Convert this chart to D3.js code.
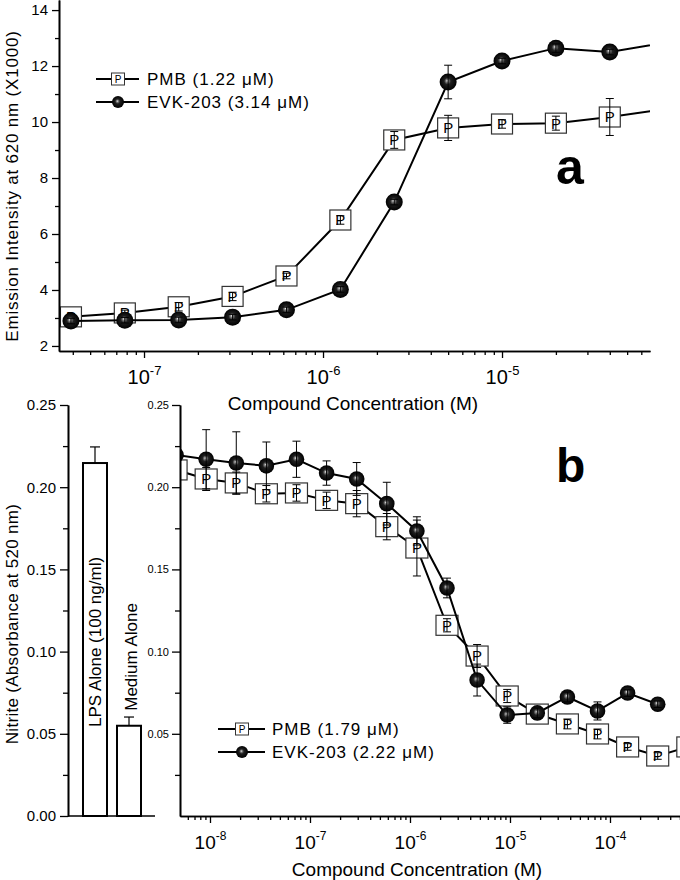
<!DOCTYPE html>
<html><head><meta charset="utf-8">
<script src="https://cdn.jsdelivr.net/npm/d3@7"></script>
<style>
html,body{margin:0;padding:0;background:#fff;}
svg{display:block;font-family:"Liberation Sans",Arial,sans-serif;}
</style></head>
<body><svg id="c" width="680" height="880"></svg>
<script>
// ---------- DATA ----------
// Panel a (top)
const concA = [3.906e-8, 7.8125e-8, 1.5625e-7, 3.125e-7, 6.25e-7, 1.25e-6, 2.5e-6, 5e-6, 1e-5, 2e-5, 4e-5, 8e-5];
const pmbA  = [3.04, 3.18, 3.40, 3.77, 4.50, 6.50, 9.36, 9.79, 9.93, 9.96, 10.18, 10.45];
const pmbAErr = [0.10, 0.10, 0.15, 0.15, 0.10, 0.15, 0.30, 0.45, 0.15, 0.25, 0.66, 0];
const evkA  = [2.89, 2.92, 2.93, 3.03, 3.29, 4.02, 7.14, 11.43, 12.18, 12.64, 12.50, 12.83];
const evkAErr = [0.10, 0.10, 0.10, 0.10, 0.10, 0.10, 0.10, 0.60, 0.10, 0.15, 0.10, 0];
const yTicksA = [2, 4, 6, 8, 10, 12, 14];
const yMinorA = [3, 5, 7, 9, 11, 13];
const xTicksA = [1e-7, 1e-6, 1e-5];
const legendA = ["PMB (1.22 \u03bcM)", "EVK-203 (3.14 \u03bcM)"];

// Panel b (bottom)
const barCats = ["LPS Alone (100 ng/ml)", "Medium Alone"];
const barVals = [0.2147, 0.0549];
const barErr  = [0.0098, 0.0053];
const concB = [4.578e-9, 9.155e-9, 1.831e-8, 3.662e-8, 7.324e-8, 1.465e-7, 2.93e-7, 5.859e-7, 1.172e-6, 2.344e-6, 4.688e-6, 9.375e-6, 1.875e-5, 3.75e-5, 7.5e-5, 1.5e-4, 3e-4, 6e-4];
const pmbB = [0.2105, 0.205, 0.2026, 0.196, 0.1965, 0.192, 0.190, 0.176, 0.163, 0.116, 0.0973, 0.073, 0.062, 0.056, 0.0499, 0.042, 0.0365, 0.042];
const pmbBErr = [0.004, 0.007, 0.0066, 0.005, 0.005, 0.005, 0.008, 0.008, 0.017, 0.004, 0.007, 0.004, 0.003, 0.003, 0.003, 0.002, 0.002, 0];
const evkB = [0.2196, 0.217, 0.2147, 0.213, 0.217, 0.2086, 0.205, 0.190, 0.1734, 0.1387, 0.0827, 0.0614, 0.0627, 0.0724, 0.0639, 0.0748, 0.068];
const evkBErr = [0.004, 0.018, 0.019, 0.0145, 0.011, 0.0074, 0.010, 0.013, 0.0086, 0.006, 0.0097, 0.005, 0.003, 0.003, 0.0055, 0.002, 0.002];
const yTicksB = [0, 0.05, 0.10, 0.15, 0.20, 0.25];
const yMinorB = [0.025, 0.075, 0.125, 0.175, 0.225];
const xTicksB = [1e-8, 1e-7, 1e-6, 1e-5, 1e-4];
const legendB = ["PMB (1.79 \u03bcM)", "EVK-203 (2.22 \u03bcM)"];

// ---------- SETUP ----------
const svg = d3.select("#c");
const defs = svg.append("defs");
const grad = defs.append("radialGradient").attr("id","ball")
  .attr("cx","50%").attr("cy","50%").attr("r","50%").attr("fx","44%").attr("fy","42%");
grad.append("stop").attr("offset","0%").attr("stop-color","#f4f4f4");
grad.append("stop").attr("offset","14%").attr("stop-color","#8a8a8a");
grad.append("stop").attr("offset","40%").attr("stop-color","#202020");
grad.append("stop").attr("offset","100%").attr("stop-color","#000");

function styleAxis(g, fs){
  g.select(".domain").attr("stroke","#000").attr("stroke-width",1.6);
  g.selectAll(".tick line").attr("stroke","#000").attr("stroke-width",1.3);
  g.selectAll(".tick text").attr("fill","#000").attr("font-size",fs)
    .attr("font-family","'Liberation Sans',Arial,sans-serif");
}
function minorTicksLog(dom){
  const out=[];
  for(let d=-10; d<=-2; d++) for(let k=2;k<=9;k++){ const v=k*Math.pow(10,d); if(v>=dom[0]&&v<=dom[1]) out.push(v); }
  return out;
}
function supLabels(g, fs, sfs, dy){
  g.selectAll(".tick text").each(function(d){
    const t=d3.select(this); const e=Math.round(Math.log10(d));
    t.text(null);
    t.append("tspan").text("10");
    t.append("tspan").attr("font-size",sfs).attr("dy",-dy).text(e);
  });
}
function line(x,y){ return d3.line().x(d=>x(d[0])).y(d=>y(d[1])); }

function drawSeries(g, x, y, conc, vals, errs, kind, sq, r, pfs){
  const pts = vals.map((v,i)=>[conc[i], v, errs[i]]);
  const [r0, r1] = x.range();
  g.append("path").datum(pts).attr("d", line(x,y)).attr("fill","none")
    .attr("stroke","#000").attr("stroke-width",2);
  const m = g.selectAll(null).data(pts).enter().append("g")
    .attr("transform", d=>`translate(${x(d[0])},${y(d[1])})`);
  if(kind==="sq"){
    m.append("rect").attr("x",-sq[0]/2).attr("y",-sq[1]/2).attr("width",sq[0]).attr("height",sq[1])
      .attr("fill","#fff").attr("stroke","#333").attr("stroke-width",1.2);
    m.filter(d=>x(d[0])>=r0 && x(d[0])<=r1)
      .append("text").attr("text-anchor","middle").attr("dy","0.36em").attr("font-size",pfs).text("P");
  } else {
    m.append("circle").attr("r",r).attr("fill","url(#ball)");
  }
  const e = g.selectAll(null).data(pts.filter(d=>d[2]>0)).enter().append("g").attr("stroke","#000").attr("stroke-width",1);
  e.append("line").attr("x1",d=>x(d[0])).attr("x2",d=>x(d[0])).attr("y1",d=>y(d[1]-d[2])).attr("y2",d=>y(d[1]+d[2]));
  e.append("line").attr("x1",d=>x(d[0])-4).attr("x2",d=>x(d[0])+4).attr("y1",d=>y(d[1]+d[2])).attr("y2",d=>y(d[1]+d[2]));
  e.append("line").attr("x1",d=>x(d[0])-4).attr("x2",d=>x(d[0])+4).attr("y1",d=>y(d[1]-d[2])).attr("y2",d=>y(d[1]-d[2]));
}

function legend(g, x0, x1, xs, xt, ys, labels, fs){
  labels.forEach((lab,i)=>{
    const y = ys[i];
    g.append("line").attr("x1",x0).attr("x2",x1).attr("y1",y).attr("y2",y).attr("stroke","#000").attr("stroke-width",2);
    if(i===0){
      g.append("rect").attr("x",xs-6.5).attr("y",y-6).attr("width",13).attr("height",12).attr("fill","#fff").attr("stroke","#333").attr("stroke-width",1);
      g.append("text").attr("x",xs).attr("y",y).attr("dy","0.36em").attr("text-anchor","middle").attr("font-size",10).text("P");
    } else {
      g.append("circle").attr("cx",xs).attr("cy",y).attr("r",6).attr("fill","url(#ball)");
    }
    g.append("text").attr("x",xt).attr("y",y).attr("dy","0.36em").attr("font-size",fs)
      .attr("letter-spacing","1px").text(lab);
  });
}

// ---------- PANEL A ----------
const xA = d3.scaleLog().domain([3.35e-8, 6.71e-5]).range([59, 650]);
const yA = d3.scaleLinear().domain([1.82, 14.36]).range([351, 0]);

svg.append("clipPath").attr("id","clipA").append("rect").attr("x",57).attr("y",0).attr("width",593).attr("height",351);
const gA = svg.append("g").attr("clip-path","url(#clipA)");
drawSeries(gA, xA, yA, concA, pmbA, pmbAErr, "sq", [21,20], 0, 15);
drawSeries(gA, xA, yA, concA, evkA, evkAErr, "ball", null, 8.5, 0);

let ax = svg.append("g").attr("transform","translate(59,0)")
  .call(d3.axisLeft(yA).tickValues(yTicksA).tickSize(7).tickSizeOuter(0).tickPadding(4).tickFormat(d3.format("d")));
styleAxis(ax, 15);
ax = svg.append("g").attr("transform","translate(59,0)")
  .call(d3.axisLeft(yA).tickValues(yMinorA).tickSize(4).tickSizeOuter(0).tickFormat(""));
styleAxis(ax, 15);
ax = svg.append("g").attr("transform","translate(0,351)")
  .call(d3.axisBottom(xA).tickValues(xTicksA).tickSize(7).tickSizeOuter(0).tickPadding(12));
styleAxis(ax, 20); supLabels(ax, 20, 13, 9);
ax = svg.append("g").attr("transform","translate(0,351)")
  .call(d3.axisBottom(xA).tickValues(minorTicksLog(xA.domain())).tickSize(4).tickSizeOuter(0).tickFormat(""));
styleAxis(ax, 20);

svg.append("text").attr("transform","translate(18,186) rotate(-90)").attr("text-anchor","middle")
  .attr("font-size",17).attr("letter-spacing","0.8px").text("Emission Intensity at 620 nm (X1000)");
svg.append("text").attr("x",353).attr("y",410).attr("text-anchor","middle")
  .attr("font-size",19).text("Compound Concentration (M)");
svg.append("text").attr("x",556).attr("y",184).attr("font-size",50).attr("font-weight","bold").text("a");
legend(svg, 96, 139, 118, 147, [79,102], legendA, 17);

// ---------- PANEL B: bars ----------
const yB = d3.scaleLinear().domain([0, 0.25]).range([816, 405]);
const xBar = d3.scaleBand().domain(barCats).range([73, 151]).padding(0.294);
const gBar = svg.append("g");
gBar.selectAll(null).data(barCats).enter().append("rect")
  .attr("x", d=>xBar(d)).attr("width", xBar.bandwidth())
  .attr("y", (d,i)=>yB(barVals[i])).attr("height", (d,i)=>yB(0)-yB(barVals[i]))
  .attr("fill","#fff").attr("stroke","#000").attr("stroke-width",2);
barCats.forEach((c,i)=>{
  const cx = xBar(c)+xBar.bandwidth()/2;
  gBar.append("line").attr("x1",cx).attr("x2",cx).attr("y1",yB(barVals[i])).attr("y2",yB(barVals[i]+barErr[i])).attr("stroke","#000").attr("stroke-width",1.2);
  gBar.append("line").attr("x1",cx-5).attr("x2",cx+5).attr("y1",yB(barVals[i]+barErr[i])).attr("y2",yB(barVals[i]+barErr[i])).attr("stroke","#000").attr("stroke-width",1.2);
});
gBar.append("text").attr("transform",`translate(${xBar(barCats[0])+xBar.bandwidth()/2+6},${yB(0)-89}) rotate(-90)`)
  .attr("font-size",17).text(barCats[0]);
gBar.append("text").attr("transform",`translate(${xBar(barCats[1])+xBar.bandwidth()/2+8},${yB(barVals[1])-15}) rotate(-90)`)
  .attr("font-size",17).text(barCats[1]);

ax = svg.append("g").attr("transform","translate(68,0)")
  .call(d3.axisLeft(yB).tickValues(yTicksB).tickSize(8).tickSizeOuter(0).tickPadding(4).tickFormat(d3.format(".2f")));
styleAxis(ax, 15);
ax = svg.append("g").attr("transform","translate(68,0)")
  .call(d3.axisLeft(yB).tickValues(yMinorB).tickSize(5).tickSizeOuter(0).tickFormat(""));
styleAxis(ax, 15);
svg.append("line").attr("x1",68).attr("x2",155).attr("y1",816).attr("y2",816).attr("stroke","#000").attr("stroke-width",1.6);

svg.append("text").attr("transform","translate(18,624) rotate(-90)").attr("text-anchor","middle")
  .attr("font-size",17).attr("letter-spacing","0.3px").text("Nitrite (Absorbance at 520 nm)");

// ---------- PANEL B: curves ----------
const xB = d3.scaleLog().domain([Math.pow(10,-8.3), Math.pow(10,-3.3)]).range([180, 680]);
svg.append("clipPath").attr("id","clipB").append("rect").attr("x",180).attr("y",390).attr("width",500).attr("height",426);
const gB = svg.append("g").attr("clip-path","url(#clipB)");
drawSeries(gB, xB, yB, concB, pmbB, pmbBErr, "sq", [22,20], 0, 15);
drawSeries(gB, xB, yB, concB.slice(0, evkB.length), evkB, evkBErr, "ball", null, 7.8, 0);

ax = svg.append("g").attr("transform","translate(180,0)")
  .call(d3.axisLeft(yB).tickValues(yTicksB.slice(1)).tickSize(8).tickSizeOuter(0).tickPadding(3).tickFormat(d3.format(".2f")));
styleAxis(ax, 11);
ax = svg.append("g").attr("transform","translate(180,0)")
  .call(d3.axisLeft(yB).tickValues(yMinorB).tickSize(5).tickSizeOuter(0).tickFormat(""));
styleAxis(ax, 11);
ax = svg.append("g").attr("transform","translate(0,816)")
  .call(d3.axisBottom(xB).tickValues(xTicksB).tickSize(7).tickSizeOuter(0).tickPadding(13));
styleAxis(ax, 19); supLabels(ax, 19, 12, 9);
ax = svg.append("g").attr("transform","translate(0,816)")
  .call(d3.axisBottom(xB).tickValues(minorTicksLog(xB.domain())).tickSize(4).tickSizeOuter(0).tickFormat(""));
styleAxis(ax, 19);

svg.append("text").attr("x",417).attr("y",876).attr("text-anchor","middle")
  .attr("font-size",19).text("Compound Concentration (M)");
svg.append("text").attr("x",556).attr("y",482).attr("font-size",48).attr("font-weight","bold").text("b");
legend(svg, 218, 265, 242, 272, [729,752], legendB, 17);
</script></body></html>
